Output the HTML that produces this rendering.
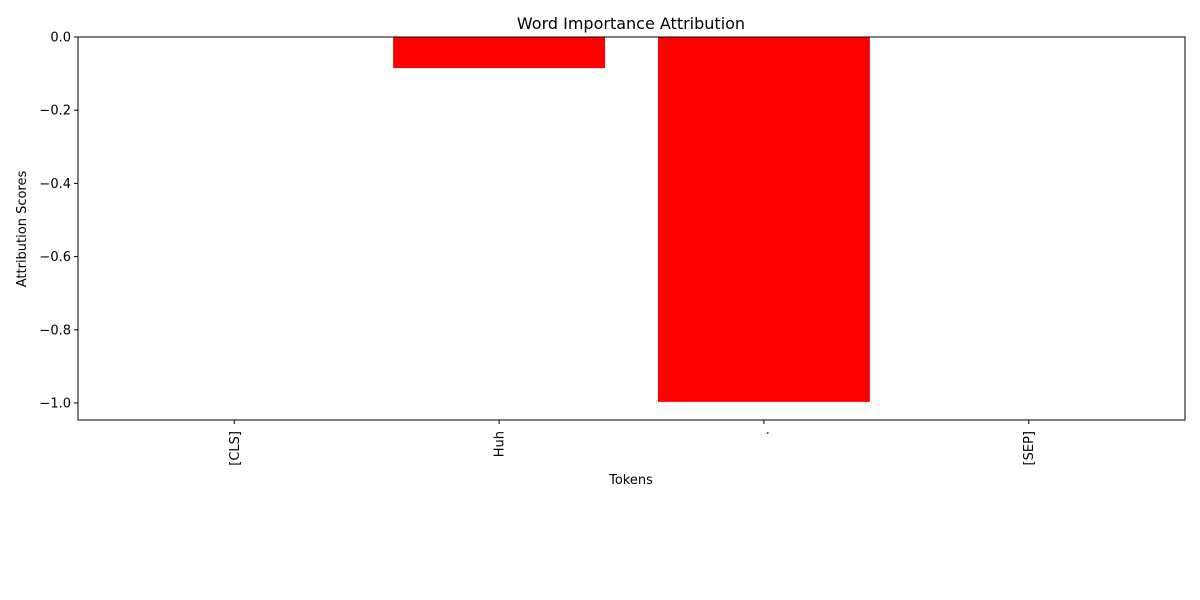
<!DOCTYPE html>
<html><head><meta charset="utf-8"><style>
body{margin:0;background:#fff;}
svg{display:block;font-family:"DejaVu Sans","Liberation Sans",sans-serif;}
</style></head><body>
<svg id="chart" width="1200" height="600">
<rect width="1200" height="600" fill="#fff"/>
<text x="631" y="29" text-anchor="middle" font-size="16">Word Importance Attribution</text>
<g id="bars"></g>
<rect x="78" y="37" width="1107" height="383" fill="none" stroke="#000" stroke-width="1"/>
<g id="yt"></g><g id="xt"></g>
<text x="631" y="484" text-anchor="middle" font-size="13">Tokens</text>
<text transform="translate(26,229) rotate(-90)" text-anchor="middle" font-size="13">Attribution Scores</text>
</svg>
<script>
const tokens=["[CLS]","Huh",".","[SEP]"];
const scores=[0,-0.085,-0.997,0];
const yTicks=[0,-0.2,-0.4,-0.6,-0.8,-1.0];
const yTickLabels=["0.0","\u22120.2","\u22120.4","\u22120.6","\u22120.8","\u22121.0"];
const NS="http://www.w3.org/2000/svg";
const L=78,R=1185,T=37,B=420;
const xmin=-0.59,xmax=tokens.length-1+0.59;
const ymax=0,ymin=-1.0465;
const X=v=>L+(v-xmin)/(xmax-xmin)*(R-L);
const Y=v=>T+(ymax-v)/(ymax-ymin)*(B-T);
function mk(t,a,p){const e=document.createElementNS(NS,t);for(const k in a)e.setAttribute(k,a[k]);p.appendChild(e);return e;}
const bars=document.getElementById('bars'),yt=document.getElementById('yt'),xt=document.getElementById('xt');
scores.forEach((s,i)=>{
  const x0=X(i-0.4),x1=X(i+0.4),y0=Y(Math.max(0,s)),y1=Y(Math.min(0,s));
  const r=mk('rect',{x:x0,y:y0,width:x1-x0,height:y1-y0,fill:'#ff0000'},bars);
  
  
});
yTicks.forEach((v,i)=>{
  const y=Y(v);
  const l=mk('line',{x1:L-4,x2:L,y1:y,y2:y,stroke:'#000'},yt);
  
  
  const t=mk('text',{x:L-7,y:y+4.5,'text-anchor':'end','font-size':'13'},yt);
  t.textContent=yTickLabels[i];
  
  
});
tokens.forEach((tk,i)=>{
  const x=X(i);
  const l=mk('line',{x1:x,x2:x,y1:B,y2:B+4,stroke:'#000'},xt);
  
  
  const t=mk('text',{transform:`translate(${x+4.5},${B+11}) rotate(-90)`,'text-anchor':'end','font-size':'13'},xt);
  t.textContent=tk;
  
  
});
</script>
</body></html>
